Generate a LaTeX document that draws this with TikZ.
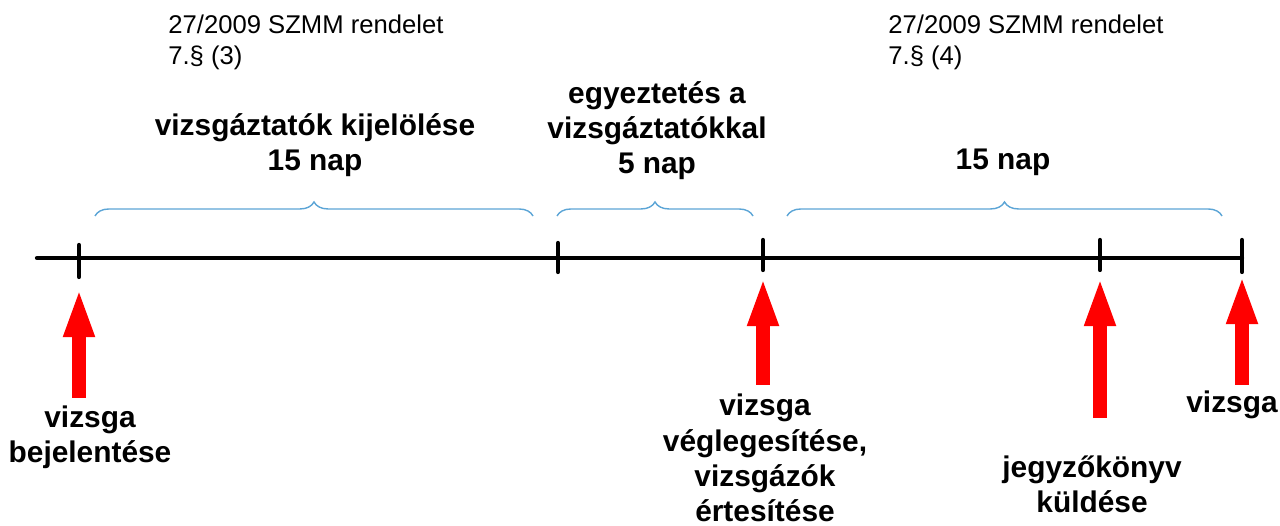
\documentclass[tikz,border=0pt]{standalone}
\usepackage{fontspec}
\setmainfont{Liberation Sans}
\usetikzlibrary{decorations.pathreplacing,arrows.meta}
\begin{document}
\begin{tikzpicture}[x=0.02cm,y=-0.02cm,
  axisline/.style={line width=2.4pt,line cap=round},
  tickmark/.style={line width=2.4pt,line cap=round},
  redarrow/.style={red,line width=8pt,-{Triangle[length=28pt,width=16pt]}},
  bracestyle/.style={draw=blue!40!cyan!60!gray!80,line width=0.8pt,decorate,decoration={brace,amplitude=8pt}},
  reftext/.style={font=\fontsize{14.6pt}{17.6pt}\selectfont,align=left,anchor=west,inner sep=0pt},
  boldtext/.style={font=\fontsize{17pt}{20pt}\selectfont\bfseries,align=center,inner sep=0pt},
]
\useasboundingbox (0,0) rectangle (1280,526);
% axis
\coordinate (L) at (37,258);
\coordinate (R) at (1242,258);
\draw[axisline] (L) -- (R);
% ticks
\foreach \n/\x/\t/\b in {t1/79/245/277, t2/558/243/272, t3/763/240/270, t4/1100/240/270, t5/1242/240/272}{
  \coordinate (\n top) at (\x,\t);
  \coordinate (\n bot) at (\x,\b);
  \draw[tickmark] (\n top) -- (\n bot);
}
% braces
\coordinate (b1a) at (95,216); \coordinate (b1b) at (533,216);
\coordinate (b2a) at (557,216); \coordinate (b2b) at (753,216);
\coordinate (b3a) at (787,216); \coordinate (b3b) at (1222,216);
\draw[bracestyle] (b1a) -- (b1b);
\draw[bracestyle] (b2a) -- (b2b);
\draw[bracestyle] (b3a) -- (b3b);
% reference texts
\node[reftext] (ref1) at (168,42) {27/2009 SZMM rendelet\\7.§ (3)};
\node[reftext] (ref2) at (888,42) {27/2009 SZMM rendelet\\7.§ (4)};
% period labels
\node[boldtext] (p1) at (315,145) {vizsgáztatók kijelölése\\15 nap};
\node[boldtext] (p2) at (657,131) {egyeztetés a\\vizsgáztatókkal\\5 nap};
\node[boldtext] (p3) at (1003,162) {15 nap};
% bottom labels
\node[boldtext] (e1) at (90,437) {vizsga\\bejelentése};
\node[boldtext] (e2) at (765,458) {vizsga\\véglegesítése,\\vizsgázók\\értesítése};
\node[boldtext] (e3) at (1092,484) {jegyzőkönyv\\küldése};
\node[boldtext] (e4) at (1232,405) {vizsga};
% arrows
\coordinate (a1s) at (79,398); \coordinate (a1e) at (79,288);
\coordinate (a2s) at (763,385); \coordinate (a2e) at (763,277);
\coordinate (a3s) at (1100,418); \coordinate (a3e) at (1100,277);
\coordinate (a4s) at (1242,385); \coordinate (a4e) at (1242,275);
\draw[redarrow] (a1s) -- (a1e);
\draw[redarrow] (a2s) -- (a2e);
\draw[redarrow] (a3s) -- (a3e);
\draw[redarrow] (a4s) -- (a4e);
\end{tikzpicture}
\end{document}
